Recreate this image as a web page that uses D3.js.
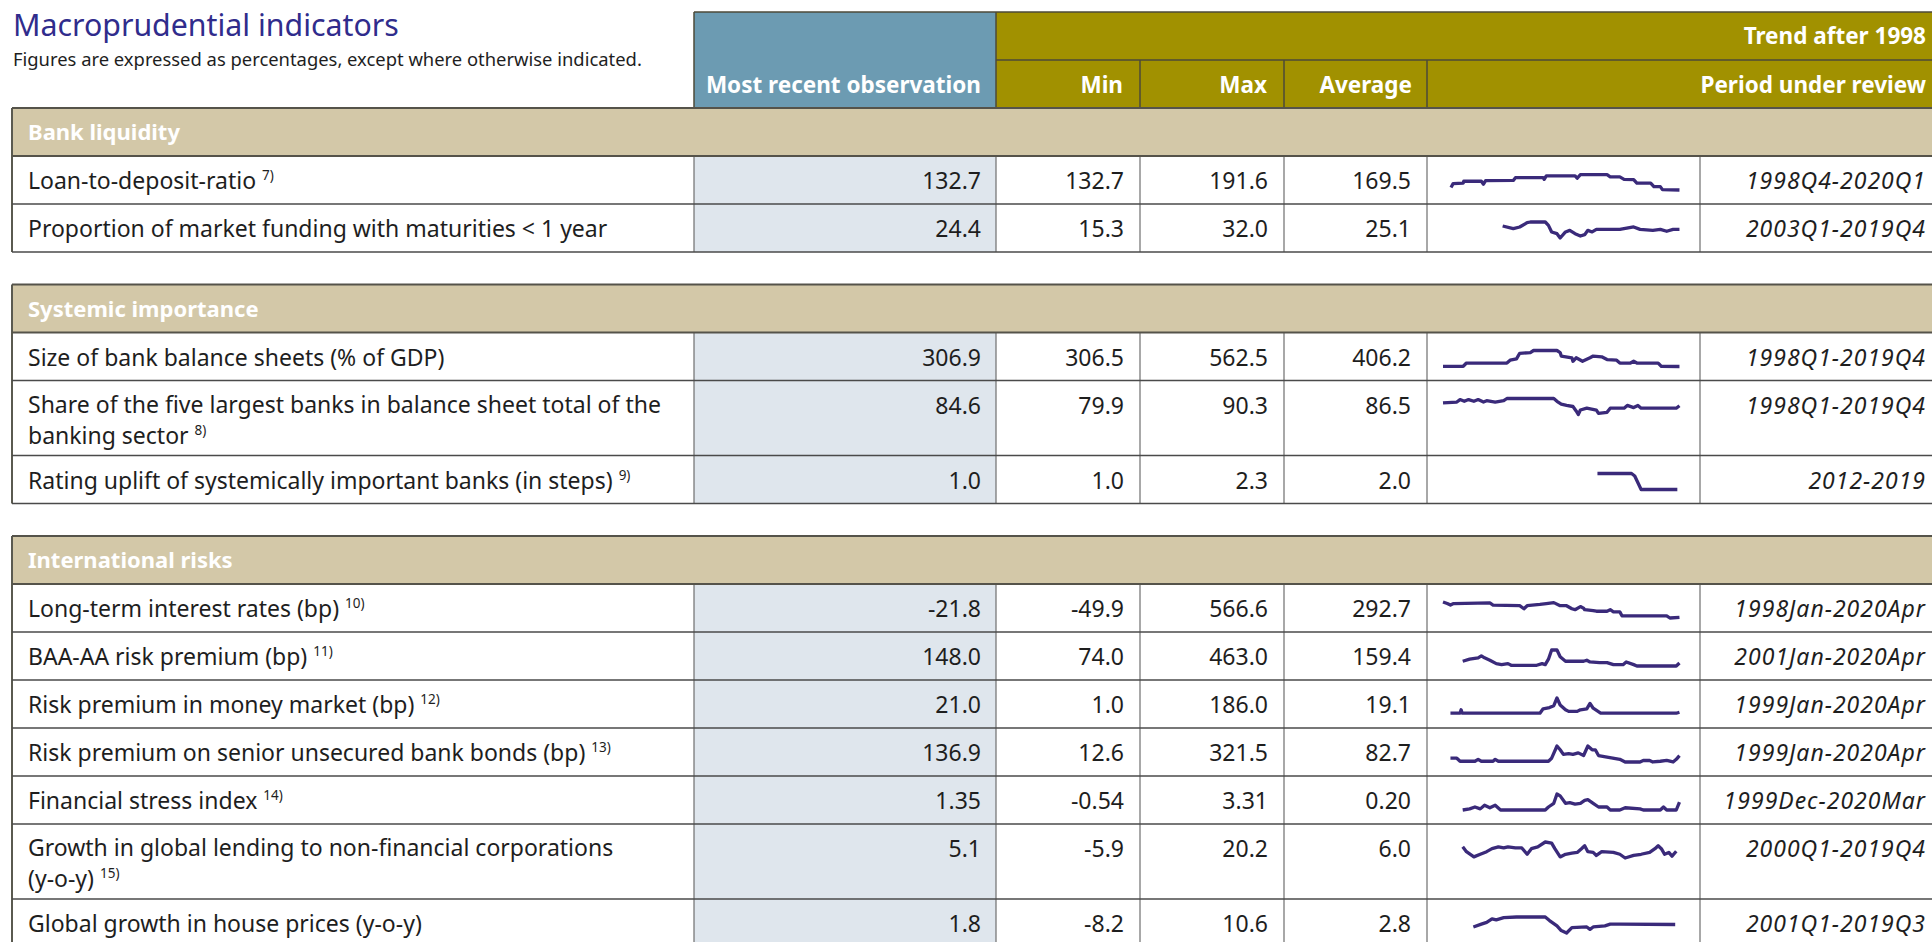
<!DOCTYPE html>
<html>
<head>
<meta charset="utf-8">
<script src="https://cdn.jsdelivr.net/npm/d3@7"></script>
<style>
  body { margin: 0; background: #fff; }
  svg { display: block; font-family: "Noto Sans", sans-serif; }
</style>
</head>
<body>
<script>
// table content
const sections = ["Bank liquidity", "Systemic importance", "International risks"];
const sectionOf = [0, 0, 1, 1, 1, 2, 2, 2, 2, 2, 2, 2];
const labels = [
  "Loan-to-deposit-ratio",
  "Proportion of market funding with maturities < 1 year",
  "Size of bank balance sheets (% of GDP)",
  "Share of the five largest banks in balance sheet total of the\nbanking sector",
  "Rating uplift of systemically important banks (in steps)",
  "Long-term interest rates (bp)",
  "BAA-AA risk premium (bp)",
  "Risk premium in money market (bp)",
  "Risk premium on senior unsecured bank bonds (bp)",
  "Financial stress index",
  "Growth in global lending to non-financial corporations\n(y-o-y)",
  "Global growth in house prices (y-o-y)"
];
const notes = ["7)", "", "", "8)", "9)", "10)", "11)", "12)", "13)", "14)", "15)", ""];
const recent = [132.7, 24.4, 306.9, 84.6, 1.0, -21.8, 148.0, 21.0, 136.9, 1.35, 5.1, 1.8];
const mins = [132.7, 15.3, 306.5, 79.9, 1.0, -49.9, 74.0, 1.0, 12.6, -0.54, -5.9, -8.2];
const maxs = [191.6, 32.0, 562.5, 90.3, 2.3, 566.6, 463.0, 186.0, 321.5, 3.31, 20.2, 10.6];
const avgs = [169.5, 25.1, 406.2, 86.5, 2.0, 292.7, 159.4, 19.1, 82.7, 0.20, 6.0, 2.8];
const decimals = [1, 1, 1, 1, 1, 1, 1, 1, 1, 2, 1, 1];
const periods = [
  "1998Q4-2020Q1", "2003Q1-2019Q4", "1998Q1-2019Q4", "1998Q1-2019Q4", "2012-2019",
  "1998Jan-2020Apr", "2001Jan-2020Apr", "1999Jan-2020Apr", "1999Jan-2020Apr",
  "1999Dec-2020Mar", "2000Q1-2019Q4", "2001Q1-2019Q3"
];

// sparkline series [year, value]
const ltdTrend = [[1998.75,142],[1998.95,156],[1999.9,158],[1999.95,165],[2001.6,165],[2001.8,154],[2002.0,167],[2004.6,168],[2004.8,178],[2007.4,178],[2007.5,172],[2007.7,185],[2010.4,185],[2010.6,176],[2010.9,189],[2013.4,189],[2013.7,181],[2014.6,181],[2015.0,172],[2015.9,171],[2016.2,158],[2017.5,158],[2017.8,145],[2018.4,145],[2018.6,134],[2020.2,132.7]];
const fundingTrend = [[2003.6,27.8],[2004.6,25.0],[2005.2,26.8],[2005.9,31.3],[2006.2,32.0],[2007.6,32.0],[2007.9,28.5],[2008.2,21.6],[2008.7,19.8],[2009.0,15.3],[2009.5,21.6],[2009.9,23.3],[2010.4,19.8],[2010.9,17.4],[2011.3,18.8],[2011.6,23.3],[2012.0,21.6],[2012.4,24.3],[2014.6,24.3],[2015.9,26.8],[2016.5,24.3],[2017.7,23.3],[2018.4,24.3],[2019.0,22.3],[2019.6,24.3],[2020.2,24.4]];
const sizeTrend = [[1998.0,310],[1999.9,310],[2000.2,362],[2004.0,362],[2004.3,407],[2004.9,429],[2005.2,518],[2006.2,529],[2006.5,562.5],[2008.7,562.5],[2009.0,529],[2009.1,474],[2010.1,446],[2010.2,390],[2010.5,446],[2011.1,390],[2011.8,446],[2012.1,474],[2012.9,462],[2013.4,418],[2014.3,407],[2014.6,362],[2015.6,362],[2015.9,390],[2016.2,362],[2018.2,362],[2018.5,307],[2020.2,306.9]];
const shareTrend = [[1998.0,87.4],[1999.3,88.0],[1999.6,89.6],[2000.0,88.5],[2000.4,89.6],[2000.9,88.5],[2001.3,89.6],[2001.8,88.0],[2002.1,88.9],[2002.9,88.0],[2003.7,88.9],[2004.0,90.3],[2008.4,90.3],[2008.7,88.5],[2009.1,86.7],[2009.6,85.8],[2010.2,85.1],[2010.5,82.2],[2010.7,79.9],[2010.9,82.8],[2011.5,84.0],[2012.4,82.8],[2012.6,80.6],[2013.4,81.3],[2013.7,84.0],[2015.0,84.0],[2015.3,85.8],[2015.9,84.4],[2016.3,85.8],[2016.6,84.0],[2019.9,84.0],[2020.2,85.6]];
const upliftTrend = [[2012.5,2.3],[2015.7,2.3],[2016.0,2.1],[2016.6,1.0],[2020.0,1.0]];
const rateTrend = [[1998.0,567],[1998.4,507],[1998.7,448],[1999.0,507],[2002.4,531],[2002.7,448],[2005.2,424],[2005.6,306],[2005.9,424],[2007.1,472],[2007.7,507],[2008.4,543],[2009.0,424],[2009.6,424],[2010.1,306],[2010.4,270],[2010.9,389],[2011.2,330],[2011.3,270],[2012.1,235],[2012.4,211],[2013.4,211],[2013.7,270],[2014.0,187],[2014.6,187],[2014.8,33],[2019.0,33],[2019.3,-50],[2020.2,-21.8]];
const baaTrend = [[1999.85,190],[2000.5,240],[2001.3,273],[2001.6,322],[2001.9,273],[2002.4,215],[2003.0,132],[2003.5,107],[2004.1,132],[2004.4,91],[2006.8,91],[2007.3,132],[2007.6,107],[2007.9,240],[2008.2,463],[2008.7,463],[2009.0,298],[2009.5,190],[2011.2,190],[2011.5,215],[2011.8,173],[2012.7,157],[2013.4,157],[2014.0,107],[2014.9,107],[2015.2,173],[2015.9,107],[2016.2,74],[2019.9,74],[2020.2,148]];
const moneyTrend = [[1998.7,10],[1999.6,10],[1999.7,50],[1999.8,10],[2007.1,10],[2007.4,61],[2008.0,75],[2008.4,97],[2008.7,186],[2009.0,105],[2009.5,50],[2009.8,31],[2010.6,31],[2010.9,50],[2011.5,61],[2011.8,123],[2012.1,68],[2012.8,12],[2019.9,10],[2020.2,21]];
const seniorTrend = [[1998.7,86],[1999.3,86],[1999.6,27],[2001.0,27],[2001.3,64],[2001.6,27],[2002.7,27],[2002.9,64],[2003.2,27],[2007.9,27],[2008.2,86],[2008.7,321.5],[2009.0,248],[2009.3,160],[2009.8,174],[2010.2,160],[2010.7,189],[2011.2,138],[2011.6,321],[2012.0,248],[2012.3,248],[2012.6,138],[2014.6,64],[2015.1,12.6],[2016.5,12.6],[2016.8,42],[2017.4,42],[2017.7,13],[2018.4,27],[2019.0,42],[2019.6,13],[2019.9,64],[2020.2,136.9]];
const stressTrend = [[1999.85,-0.54],[2000.5,-0.27],[2001.0,0.18],[2001.5,-0.27],[2001.9,0.62],[2002.4,0.0],[2002.9,0.62],[2003.4,-0.54],[2007.6,-0.54],[2007.9,0.18],[2008.4,1.07],[2008.7,3.31],[2009.0,2.86],[2009.5,1.07],[2009.9,1.25],[2010.4,0.89],[2010.9,1.07],[2011.3,1.79],[2011.6,1.97],[2012.1,1.07],[2012.6,0.18],[2013.4,0.18],[2013.7,-0.54],[2014.6,-0.54],[2015.1,0.0],[2016.5,-0.27],[2016.8,-0.54],[2018.4,-0.54],[2018.7,0.18],[2019.0,-0.54],[2019.9,-0.54],[2020.2,1.35]];
const lendingTrend = [[1999.85,12.3],[2000.2,4.4],[2000.9,-4.1],[2001.5,0.2],[2002.1,4.4],[2002.6,9.3],[2003.2,12.3],[2003.7,10.5],[2004.1,12.3],[2004.8,10.5],[2005.4,10.5],[2005.9,0.2],[2006.3,9.3],[2006.9,12.3],[2007.6,20.2],[2008.2,18.4],[2008.5,9.3],[2009.0,-4.1],[2009.5,0.2],[2010.1,2.0],[2010.6,3.2],[2011.0,9.3],[2011.3,14.1],[2011.6,4.4],[2012.1,3.2],[2012.4,-1.7],[2012.9,4.4],[2014.0,3.2],[2014.6,0.2],[2015.1,-5.9],[2015.9,-1.7],[2016.6,0.2],[2017.4,3.2],[2017.9,9.3],[2018.2,14.1],[2018.5,9.3],[2018.8,0.2],[2019.2,3.2],[2019.5,-2.9],[2019.9,5.1]];
const houseTrend = [[2000.85,-1.1],[2001.6,2.2],[2002.1,4.3],[2002.6,8.5],[2003.0,7.3],[2003.7,9.8],[2004.9,10.6],[2007.6,10.6],[2008.0,6.4],[2008.7,0.2],[2009.1,-5.3],[2009.6,-8.2],[2010.1,-1.9],[2011.5,-1.1],[2011.8,-4.0],[2012.1,-1.1],[2013.2,0.2],[2013.7,2.2],[2014.6,2.2],[2019.8,1.8]];
const trends = [ltdTrend, fundingTrend, sizeTrend, shareTrend, upliftTrend, rateTrend,
  baaTrend, moneyTrend, seniorTrend, stressTrend, lendingTrend, houseTrend];

const W = 1932, H = 942;
const colX = [12, 694, 996, 1140, 1284, 1427, 1700, W];
const bandH = 48, rowH = 48, extraH = 27, textLead = 31, gap = 32.5;
const ink = "#1e1e1e", sparkColor = "#3a2a7a";

const svg = d3.select("body").append("svg").attr("width", W).attr("height", H);

svg.append("text").attr("x", 13).attr("y", 36)
  .attr("font-size", 30.3).attr("fill", "#302c8c")
  .text("Macroprudential indicators");
svg.append("text").attr("x", 13).attr("y", 66)
  .attr("font-size", 18.4).attr("fill", ink)
  .text("Figures are expressed as percentages, except where otherwise indicated.");

// header
const head = svg.append("g").attr("font-weight", "bold").attr("font-size", 22.5).attr("fill", "#fff");
head.append("rect").attr("x", colX[1]).attr("y", 12).attr("width", colX[2] - colX[1]).attr("height", 96).attr("fill", "#6c9bb2");
head.append("rect").attr("x", colX[2]).attr("y", 12).attr("width", W - colX[2]).attr("height", 96).attr("fill", "#a19100");
const headLines = [
  [colX[1], 12, W, 12], [colX[1], 12, colX[1], 108], [colX[2], 12, colX[2], 108],
  [colX[2], 60, W, 60], [colX[3], 60, colX[3], 108], [colX[4], 60, colX[4], 108], [colX[5], 60, colX[5], 108]
];
head.selectAll("line").data(headLines).join("line")
  .attr("x1", d => d[0]).attr("y1", d => d[1]).attr("x2", d => d[2]).attr("y2", d => d[3])
  .attr("stroke", "#4d4a38").attr("stroke-width", 1.5);
const headTexts = [
  ["Most recent observation", colX[2] - 15, 93],
  ["Trend after 1998", W - 6, 44],
  ["Min", colX[3] - 17, 93],
  ["Max", colX[4] - 17, 93],
  ["Average", colX[5] - 15, 93],
  ["Period under review", W - 6, 93]
];
head.selectAll("text").data(headTexts).join("text")
  .attr("x", d => d[1]).attr("y", d => d[2]).attr("text-anchor", "end").text(d => d[0]);

const x = d3.scaleLinear().domain([1998, 2020.25]).range([1443, 1680]);
const fmt = (v, i) => v.toFixed(decimals[i]);

let y = 108;
sections.forEach((name, si) => {
  if (si > 0) y += gap;
  const top = y;
  const g = svg.append("g");
  g.append("rect").attr("x", colX[0]).attr("y", y).attr("width", W - colX[0]).attr("height", bandH).attr("fill", "#d3c8a8");
  g.append("text").attr("x", 28).attr("y", y + 32).attr("font-size", 22).attr("font-weight", "bold")
    .attr("fill", "#fff").text(name);
  y += bandH;

  const rows = d3.range(labels.length).filter(i => sectionOf[i] === si).map(i => {
    const lines = labels[i].split("\n");
    const r = { i, lines, top: y, h: rowH + (lines.length - 1) * extraH };
    y += r.h;
    return r;
  });

  // light column behind recent values
  g.append("rect").attr("x", colX[1]).attr("y", top + bandH).attr("width", colX[2] - colX[1])
    .attr("height", y - top - bandH).attr("fill", "#dfe6ed");

  // vertical rules
  g.selectAll("line.v").data(colX.slice(1, 7)).join("line").attr("class", "v")
    .attr("x1", d => d).attr("x2", d => d).attr("y1", top + bandH).attr("y2", y)
    .attr("stroke", "#6e6e6e").attr("stroke-width", 1.2);
  g.append("line").attr("x1", colX[0]).attr("x2", colX[0]).attr("y1", top).attr("y2", y)
    .attr("stroke", "#5a5a50").attr("stroke-width", 2);

  // horizontal rules
  const hy = [top, top + bandH].concat(rows.map(r => r.top + r.h));
  g.selectAll("line.h").data(hy).join("line").attr("class", "h")
    .attr("x1", colX[0]).attr("x2", W).attr("y1", d => d).attr("y2", d => d)
    .attr("stroke", (d, k) => k < 2 ? "#55534a" : "#4a4a4a").attr("stroke-width", (d, k) => k < 2 ? 2 : 1.5);

  const row = g.selectAll("g.row").data(rows).join("g").attr("class", "row")
    .attr("font-size", 23).attr("fill", ink);

  // one text per label line, footnote raised on the last line
  row.each(function (d) {
    const r = d3.select(this);
    const base = d.lines.length > 1 ? d.top + 32 : d.top + 33;
    d.lines.forEach((ln, k) => {
      const t = r.append("text").attr("x", 28).attr("y", base + k * textLead).text(ln);
      if (k === d.lines.length - 1 && notes[d.i]) {
        t.append("tspan").attr("font-size", 13.5).attr("dx", 6).attr("dy", -9).text(notes[d.i]);
      }
    });
  });

  const cols = [[recent, colX[2] - 15], [mins, colX[3] - 16], [maxs, colX[4] - 16], [avgs, colX[5] - 16]];
  cols.forEach(([arr, cx]) => {
    row.append("text").attr("x", cx).attr("y", d => d.top + 33).attr("text-anchor", "end")
      .text(d => fmt(arr[d.i], d.i));
  });
  row.append("text").attr("x", W - 6).attr("y", d => d.top + 33).attr("text-anchor", "end")
    .attr("font-style", "italic").attr("letter-spacing", 1).text(d => periods[d.i]);

  row.append("path")
    .attr("fill", "none").attr("stroke", sparkColor).attr("stroke-width", 3.3)
    .attr("stroke-linejoin", "round")
    .attr("d", d => {
      const yy = d3.scaleLinear().domain([mins[d.i], maxs[d.i]]).range([d.top + 34, d.top + 18]);
      return d3.line().x(p => x(p[0])).y(p => yy(p[1]))(trends[d.i]);
    });
});
</script>
</body>
</html>
